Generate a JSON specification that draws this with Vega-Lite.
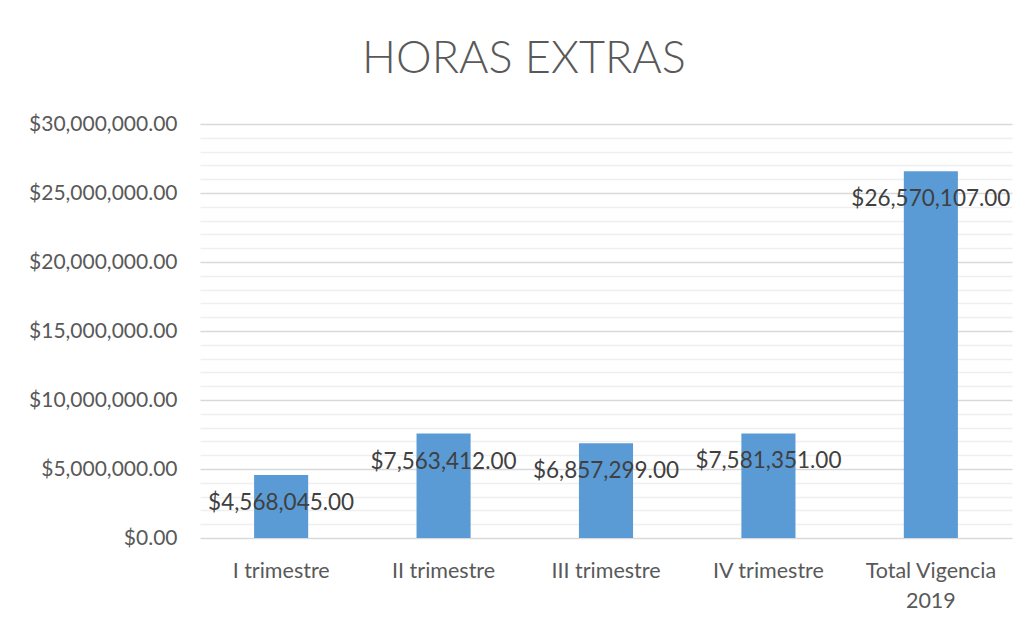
{
  "$schema": "https://vega.github.io/schema/vega-lite/v6.json",
  "autosize": "none",
  "width": 812,
  "height": 414,
  "padding": {"left": 200, "top": 124, "right": 14, "bottom": 88},
  "background": "white",
  "config": {"view": {"stroke": null}, "font": "Lato"},
  "title": {
    "text": "HORAS EXTRAS",
    "anchor": "middle",
    "dx": -82,
    "offset": 31,
    "fontSize": 45,
    "fontWeight": 300,
    "color": "#595959",
    "font": "Lato"
  },
  "data": {
    "values": [
      {"periodo": "I trimestre", "valor": 4568045},
      {"periodo": "II trimestre", "valor": 7563412},
      {"periodo": "III trimestre", "valor": 6857299},
      {"periodo": "IV trimestre", "valor": 7581351},
      {"periodo": "Total Vigencia 2019", "valor": 26570107}
    ]
  },
  "encoding": {
    "x": {
      "field": "periodo",
      "type": "nominal",
      "sort": null,
      "title": null,
      "scale": {"paddingInner": 0.667, "paddingOuter": 0.333},
      "axis": {
        "labelAngle": 0,
        "labelFontSize": 21.5,
        "labelColor": "#595959",
        "labelFont": "Lato",
        "labelPadding": 22,
        "labelLineHeight": 30,
        "labelExpr": "datum.value == 'Total Vigencia 2019' ? ['Total Vigencia', '2019'] : datum.value",
        "ticks": false,
        "domain": false,
        "grid": false
      }
    },
    "y": {
      "field": "valor",
      "type": "quantitative",
      "title": null,
      "scale": {"domain": [0, 30000000], "nice": false},
      "axis": {
        "values": [0, 1000000, 2000000, 3000000, 4000000, 5000000, 6000000, 7000000, 8000000, 9000000, 10000000, 11000000, 12000000, 13000000, 14000000, 15000000, 16000000, 17000000, 18000000, 19000000, 20000000, 21000000, 22000000, 23000000, 24000000, 25000000, 26000000, 27000000, 28000000, 29000000, 30000000],
        "labelExpr": "datum.value % 5000000 === 0 ? format(datum.value, '$,.2f') : ''",
        "labelFontSize": 21,
        "labelColor": "#595959",
        "labelFont": "Lato",
        "labelPadding": 23,
        "ticks": false,
        "domain": false,
        "grid": true,
        "gridColor": {"condition": {"test": "datum.value % 5000000 === 0", "value": "#d9d9d9"}, "value": "#efefef"},
        "gridWidth": 1.3
      }
    }
  },
  "layer": [
    {"mark": {"type": "bar", "color": "#5B9BD5"}},
    {
      "mark": {"type": "text", "dy": 28, "baseline": "middle", "fontSize": 22.5, "color": "#404040", "font": "Lato"},
      "encoding": {"text": {"field": "valor", "type": "quantitative", "format": "$,.2f"}}
    }
  ]
}
